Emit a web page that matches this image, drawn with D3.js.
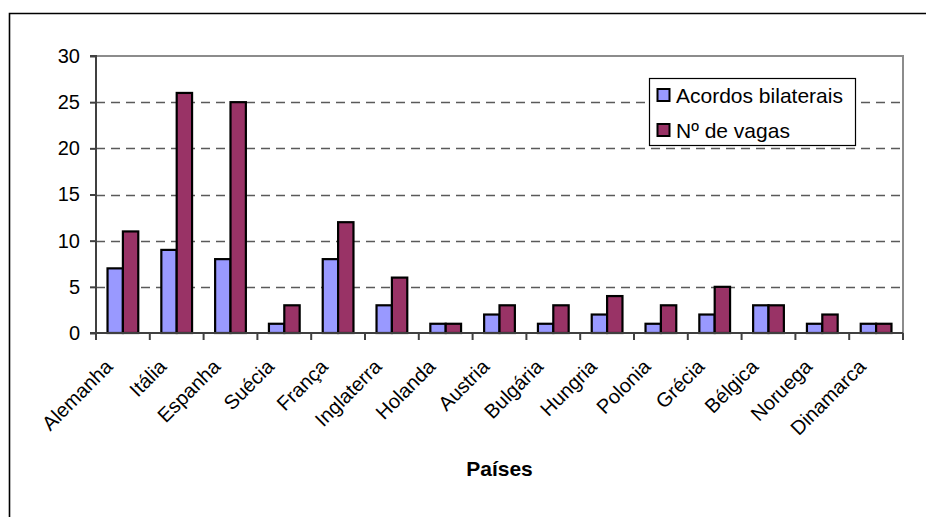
<!DOCTYPE html>
<html>
<head>
<meta charset="utf-8">
<script src="https://cdn.jsdelivr.net/npm/d3@7"></script>
<style>
  html, body { margin: 0; padding: 0; background: #fff; }
  svg { display: block; font-family: "Liberation Sans", Arial, sans-serif; }
</style>
</head>
<body>
<svg id="chart" width="926" height="517"></svg>
<script>
// Countries (categories)
const paises = ["Alemanha", "Itália", "Espanha", "Suécia", "França", "Inglaterra",
  "Holanda", "Austria", "Bulgária", "Hungria", "Polonia", "Grécia", "Bélgica",
  "Noruega", "Dinamarca"];
// Series values
const acordos = [7, 9, 8, 1, 8, 3, 1, 2, 1, 2, 1, 2, 3, 1, 1];
const vagas = [11, 26, 25, 3, 12, 6, 1, 3, 3, 4, 3, 5, 3, 2, 1];
const seriesNames = ["Acordos bilaterais", "Nº de vagas"];
const seriesColors = ["#9999FF", "#993366"];
// Y axis ticks
const yTicks = [0, 5, 10, 15, 20, 25, 30];
const xTitle = "Países";

const svg = d3.select("#chart");
const plot = { left: 96, right: 903, top: 56, bottom: 333 };

// Outer chart frame (right/bottom edges fall outside the canvas)
svg.append("path")
  .attr("d", "M9.5,530 V13.5 H940")
  .attr("fill", "none").attr("stroke", "#000").attr("stroke-width", 1.6);

const x = d3.scaleBand().domain(paises).range([plot.left, plot.right]).paddingInner(0).paddingOuter(0);
const y = d3.scaleLinear().domain([0, 30]).range([plot.bottom, plot.top]);

// bar geometry: two bars per group, gap of 150% of a bar width
const barW = x.bandwidth() / 3.5;
const gapHalf = barW * 0.75;

// dashed gridlines
svg.append("g").selectAll("line")
  .data(yTicks.filter(t => t > 0 && t < 30))
  .join("line")
  .attr("x1", plot.left).attr("x2", plot.right)
  .attr("y1", d => Math.round(y(d)) + 0.5).attr("y2", d => Math.round(y(d)) + 0.5)
  .attr("stroke", "#5a5a5a").attr("stroke-width", 1.5)
  .attr("stroke-dasharray", "9,6");

// plot area top and right border
svg.append("path")
  .attr("d", `M${plot.left},${y(30)} H${plot.right} V${plot.bottom}`)
  .attr("fill", "none").attr("stroke", "#8c8c8c").attr("stroke-width", 2);

// bars
const data = paises.map((p, i) => ({ p, vals: [acordos[i], vagas[i]] }));
const groups = svg.append("g").selectAll("g").data(data).join("g");
groups.selectAll("rect")
  .data(d => d.vals.map((v, k) => ({ p: d.p, v, k })))
  .join("rect")
  .attr("x", d => x(d.p) + gapHalf + d.k * barW)
  .attr("y", d => y(d.v))
  .attr("width", barW)
  .attr("height", d => y(0) - y(d.v))
  .attr("fill", d => seriesColors[d.k])
  .attr("stroke", "#000").attr("stroke-width", 2.2);

// Y axis
const yAxis = svg.append("g")
  .attr("transform", `translate(${plot.left},0)`)
  .call(d3.axisLeft(y).tickValues(yTicks).tickSize(6).tickPadding(10).tickFormat(d3.format("d")));
yAxis.selectAll("path, line").attr("stroke", "#404040").attr("stroke-width", 2);
yAxis.select(".domain").attr("d", `M-6,${y(30)}H0V${plot.bottom}H-6`);
yAxis.selectAll("text").attr("font-size", 20).attr("fill", "#000")
  .attr("font-family", "Liberation Sans, Arial, sans-serif");

// X axis with category boundary ticks
const xAxisG = svg.append("g").attr("transform", `translate(0,${plot.bottom})`);
xAxisG.append("line")
  .attr("x1", plot.left).attr("x2", plot.right)
  .attr("stroke", "#404040").attr("stroke-width", 2);
const boundaries = paises.map(p => x(p)).concat([plot.right]);
xAxisG.selectAll("line.tick").data(boundaries).join("line")
  .attr("class", "tick")
  .attr("x1", d => d).attr("x2", d => d)
  .attr("y1", 0).attr("y2", 7)
  .attr("stroke", "#404040").attr("stroke-width", 2);

// rotated category labels
svg.append("g").selectAll("text").data(paises).join("text")
  .attr("transform", d => `translate(${x(d) + x.bandwidth() / 2 - 9},368) rotate(-45)`)
  .attr("text-anchor", "end")
  .attr("font-size", 20)
  .attr("fill", "#000")
  .text(d => d);

// X axis title
svg.append("text")
  .attr("x", (plot.left + plot.right) / 2).attr("y", 476)
  .attr("text-anchor", "middle")
  .attr("font-size", 21).attr("font-weight", "bold")
  .text(xTitle);

// Legend
const lg = svg.append("g").attr("transform", "translate(649,78)");
lg.append("rect").attr("x", 0.5).attr("y", 0.5).attr("width", 206).attr("height", 67)
  .attr("fill", "#fff").attr("stroke", "#000").attr("stroke-width", 1.2);
seriesNames.forEach((name, i) => {
  const cy = 17 + i * 35;
  lg.append("rect").attr("x", 8.5).attr("y", cy - 6).attr("width", 12).attr("height", 12)
    .attr("fill", seriesColors[i]).attr("stroke", "#000").attr("stroke-width", 2);
  lg.append("text").attr("x", 27).attr("y", cy + 7.5)
    .attr("font-size", 21).attr("fill", "#000").text(name);
});
</script>
</body>
</html>
